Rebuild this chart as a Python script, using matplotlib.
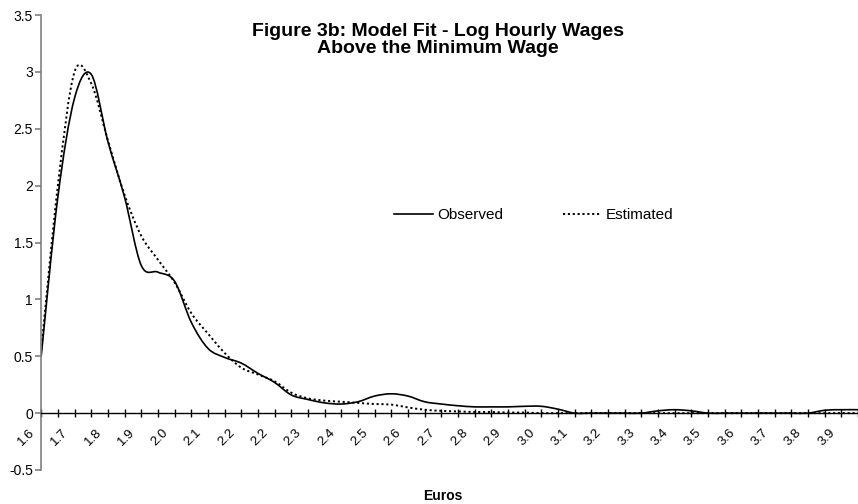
import matplotlib
matplotlib.use("Agg")
import matplotlib.pyplot as plt
from matplotlib.path import Path
from matplotlib.patches import PathPatch
from matplotlib.lines import Line2D
import matplotlib.transforms as mtransforms

plt.rcParams['font.family'] = ['Liberation Sans', 'DejaVu Sans']

# x axis is a category axis, one category per tick, label on every second one
tick_labels = ["1.6", "1.7", "1.8", "1.9", "2.0", "2.1", "2.2", "2.2", "2.3",
               "2.4", "2.5", "2.6", "2.7", "2.8", "2.9", "3.0", "3.1", "3.2",
               "3.3", "3.4", "3.5", "3.6", "3.7", "3.8", "3.9"]

observed = [0.50, 1.90, 2.77, 2.98, 2.39, 1.90, 1.30, 1.24, 1.16, 0.80,
            0.57, 0.49, 0.44, 0.35, 0.27, 0.16, 0.12, 0.09, 0.08, 0.10,
            0.15, 0.17, 0.15, 0.10, 0.08, 0.065, 0.055, 0.055, 0.055, 0.06,
            0.06, 0.035, 0.0, 0.0, 0.0, 0.0, 0.0, 0.02, 0.03, 0.02,
            0.0, 0.0, 0.0, 0.0, 0.0, 0.0, 0.0, 0.025, 0.03, 0.03]

estimated = [0.55, 2.00, 3.00, 2.90, 2.40, 1.92, 1.56, 1.35, 1.15, 0.88,
             0.70, 0.53, 0.40, 0.34, 0.28, 0.18, 0.13, 0.11, 0.10, 0.09,
             0.08, 0.075, 0.05, 0.03, 0.02, 0.015, 0.01, 0.01, 0.005, 0.005,
             0.0, 0.0, 0.0, 0.0, 0.0, 0.0, 0.0, 0.0, 0.0, 0.0,
             0.0, 0.0, 0.0, 0.0, 0.0, 0.0, 0.0, 0.0, 0.0, 0.0]

y_ticks = [-0.5, 0, 0.5, 1, 1.5, 2, 2.5, 3, 3.5]
y_labels = ["-0.5", "0", "0.5", "1", "1.5", "2", "2.5", "3", "3.5"]


def smooth_path(ys):
    # excel style smoothed line: bezier through the points
    xs = list(range(len(ys)))
    n = len(ys)
    verts = [(xs[0], ys[0])]
    codes = [Path.MOVETO]
    for i in range(n - 1):
        p0 = (xs[max(i - 1, 0)], ys[max(i - 1, 0)])
        p1 = (xs[i], ys[i])
        p2 = (xs[i + 1], ys[i + 1])
        p3 = (xs[min(i + 2, n - 1)], ys[min(i + 2, n - 1)])
        c1 = (p1[0] + (p2[0] - p0[0]) / 6, p1[1] + (p2[1] - p0[1]) / 6)
        c2 = (p2[0] - (p3[0] - p1[0]) / 6, p2[1] - (p3[1] - p1[1]) / 6)
        verts += [c1, c2, p2]
        codes += [Path.CURVE4] * 3
    return Path(verts, codes)


fig = plt.figure(figsize=(8.58, 5.04), dpi=100)
ax = fig.add_axes([0.048, 0.0675, 0.952, 0.9025])

solid_style = dict(color="black", linewidth=1.2)
dot_style = dict(color="black", linewidth=1.4, linestyle=(0, (1.1, 1.4)))

ax.add_patch(PathPatch(smooth_path(observed), fill=False, **solid_style))
ax.add_patch(PathPatch(smooth_path(estimated), fill=False, **dot_style))

ax.set_xlim(0, len(observed) - 1)
ax.set_ylim(-0.5, 3.5)

for s in ["top", "right"]:
    ax.spines[s].set_visible(False)
ax.spines["left"].set_color("#808080")
ax.spines["left"].set_linewidth(1.2)
ax.spines["bottom"].set_position(("data", 0))
ax.spines["bottom"].set_linewidth(1.0)

ax.set_yticks(y_ticks)
ax.set_yticklabels(y_labels, fontsize=10)
ax.tick_params(axis="y", direction="out", length=4, color="#808080", width=1.2, pad=2)

ax.set_xticks(range(0, 2 * len(tick_labels), 2))
ax.set_xticks(range(len(observed)), minor=True)
ax.set_xticklabels(tick_labels, fontsize=9.5, rotation=45, ha="right", va="top")
ax.tick_params(axis="x", which="both", direction="inout", length=6, width=1.0, pad=7)
offset = mtransforms.ScaledTranslation(-3 / 72, 0, fig.dpi_scale_trans)
for lab in ax.get_xticklabels():
    lab.set_transform(lab.get_transform() + offset)

fig.text(0.5105, 0.9286, "Figure 3b: Model Fit - Log Hourly Wages",
         ha="center", va="baseline", fontsize=14, fontweight="bold")
fig.text(0.5105, 0.8942, "Above the Minimum Wage",
         ha="center", va="baseline", fontsize=14, fontweight="bold")
fig.text(0.5163, 0.007, "Euros", ha="center", va="baseline", fontsize=10, fontweight="bold")

handles = [Line2D([], [], **solid_style), Line2D([], [], **dot_style)]
ax.legend(handles, ["Observed", "Estimated"], ncol=2, frameon=False, fontsize=11,
          loc="center", bbox_to_anchor=(0.603, 0.560), handlelength=2.5,
          handletextpad=0.3, columnspacing=3.9)

fig.savefig("out.png", dpi=100)
